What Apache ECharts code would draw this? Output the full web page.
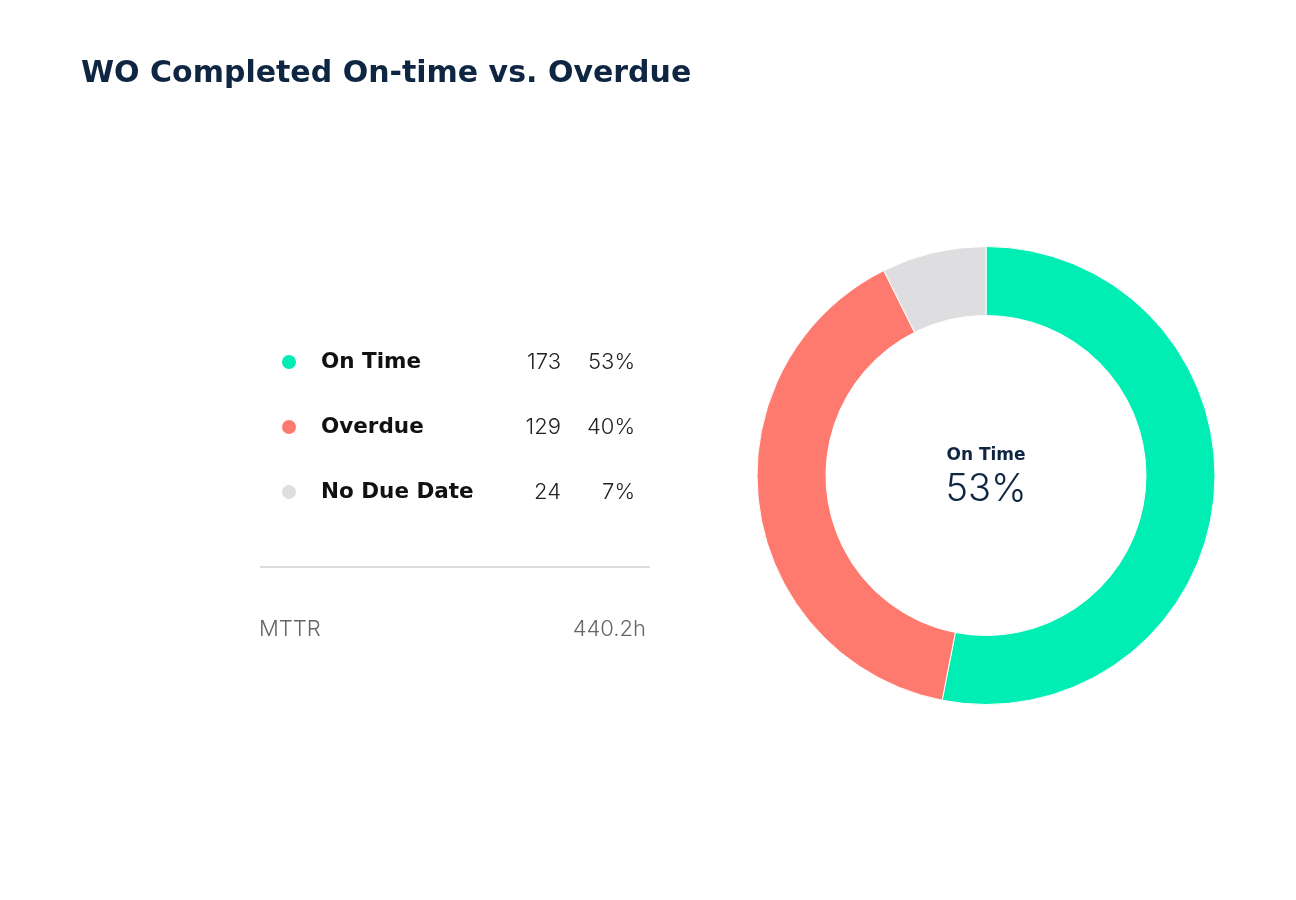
<!DOCTYPE html>
<html>
<head>
<meta charset="utf-8">
<script src="https://cdn.jsdelivr.net/npm/echarts@6/dist/echarts.min.js"></script>
<style>
html,body{margin:0;padding:0;background:#fff;}
#c{width:1296px;height:900px;}
</style>
</head>
<body>
<div id="c"></div>
<script>
var titleText = 'WO Completed On-time vs. Overdue';
var categories = ['On Time', 'Overdue', 'No Due Date'];
var counts = [173, 129, 24];
var percents = ['53%', '40%', '7%'];
var colors = ['#00EDB3', '#FF7A6E', '#DEDEE1'];
var summaryLabel = 'MTTR';
var summaryValue = '440.2h';

var FONT = 'Inter, "Open Sans", sans-serif';
var WIDE = '"DejaVu Sans", Inter, sans-serif';
var navy = '#0F2642';

var pieData = categories.map(function (c, i) {
  return { name: c, value: counts[i], itemStyle: { color: colors[i] } };
});

var chart = echarts.init(document.getElementById('c'), null, { renderer: 'canvas' });
chart.setOption({
  animation: false,
  backgroundColor: '#ffffff',
  title: {
    text: titleText,
    left: 76, top: 54,
    textStyle: { fontFamily: WIDE, fontSize: 30, fontWeight: 'bold', color: navy }
  },
  legend: {
    orient: 'vertical',
    left: 280, top: 351,
    padding: 0,
    icon: 'circle',
    itemWidth: 16, itemHeight: 16,
    itemGap: 43,
    selectedMode: false,
    data: categories,
    formatter: function (name) {
      var i = categories.indexOf(name);
      return '{n|' + name + '}{c|' + counts[i] + '}{p|' + percents[i] + '}';
    },
    textStyle: {
      padding: [0, 0, 0, 19],
      rich: {
        n: { width: 190, fontFamily: WIDE, fontSize: 21.5, fontWeight: 'bold', color: '#111', lineHeight: 24 },
        c: { width: 50, align: 'right', fontFamily: FONT, fontSize: 22, fontWeight: 300, color: '#222', lineHeight: 24 },
        p: { width: 74, align: 'right', fontFamily: FONT, fontSize: 22, fontWeight: 300, color: '#222', lineHeight: 24 }
      }
    }
  },
  graphic: [
    { type: 'line', shape: { x1: 260, y1: 567, x2: 650, y2: 567 }, style: { stroke: '#DCDCDE', lineWidth: 2 } },
    { type: 'text', x: 259, y: 629, style: { text: summaryLabel, fontFamily: FONT, fontSize: 22, fontWeight: 300, fill: '#666', textVerticalAlign: 'middle' } },
    { type: 'text', x: 646, y: 629, style: { text: summaryValue, fontFamily: FONT, fontSize: 22, fontWeight: 300, fill: '#666', textAlign: 'right', textVerticalAlign: 'middle' } },
    { type: 'text', x: 986, y: 456, style: { text: categories[0], fontFamily: WIDE, fontSize: 17, fontWeight: 'bold', fill: navy, textAlign: 'center', textVerticalAlign: 'middle' } },
    { type: 'text', x: 986, y: 490, style: { text: percents[0], fontFamily: FONT, fontSize: 38, fontWeight: 300, fill: navy, textAlign: 'center', textVerticalAlign: 'middle' } }
  ],
  series: [{
    type: 'pie',
    center: [986, 475.5],
    radius: [160, 229],
    startAngle: 90,
    clockwise: true,
    label: { show: false },
    labelLine: { show: false },
    emphasis: { disabled: true },
    itemStyle: { borderColor: '#ffffff', borderWidth: 1 },
    data: pieData
  }]
});
</script>
</body>
</html>
